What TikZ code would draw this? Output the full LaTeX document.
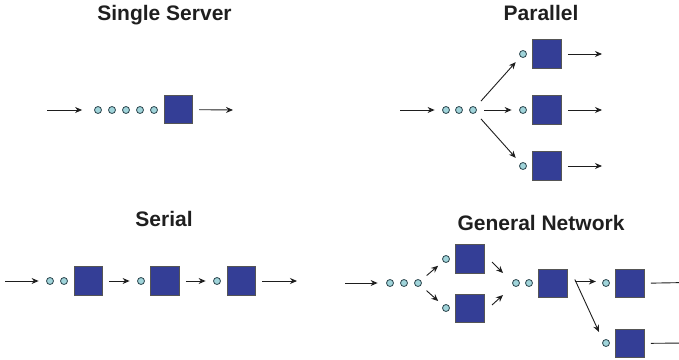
\documentclass[tikz,border=0pt]{standalone}
\usepackage{fontspec}
\setmainfont{Liberation Sans}
\usetikzlibrary{arrows.meta}
\definecolor{srvfill}{RGB}{52,62,150}
\definecolor{srvline}{RGB}{85,85,85}
\definecolor{qfill}{RGB}{160,212,218}
\definecolor{qline}{RGB}{45,70,78}
\definecolor{arrcol}{RGB}{30,30,30}
\tikzset{
  srv/.style={rectangle, minimum size=28.5pt, inner sep=0pt, fill=srvfill, draw=srvline, line width=1.2pt},
  q/.style={circle, minimum size=7pt, inner sep=0pt, fill=qfill, draw=qline, line width=0.8pt},
  arr/.style={-{Stealth[length=7pt,width=6pt]}, draw=arrcol, line width=0.9pt},
  ttl/.style={font=\fontsize{21}{25}\selectfont\bfseries, text=black!88, anchor=base, inner sep=0pt}
}
\begin{document}
\begin{tikzpicture}[x=1pt,y=-1pt]
\useasboundingbox (0,0) rectangle (679,359);
\clip (0,0) rectangle (679,359);
% titles
\node[ttl] (t1) at (164.5,20) {Single Server};
\node[ttl] (t2) at (541,20.5) {Parallel};
\node[ttl] (t3) at (164,226.5) {Serial};
\node[ttl] (t4) at (541,230) {General Network};

% ---------- Single server ----------
\coordinate (ssIn) at (47,110);
\foreach \i/\x in {1/98,2/112,3/126,4/140,5/154} \node[q] (ssc\i) at (\x,110) {};
\node[srv] (ss) at (178.5,109.5) {};
\coordinate (ssOut) at (233,110);
\draw[arr, shorten >=12pt] (ssIn) -- (ssc1);
\draw[arr, shorten <=6pt] (ss) -- (ssOut);

% ---------- Parallel ----------
\coordinate (pIn) at (400,110);
\foreach \i/\x in {1/446,2/459,3/473} \node[q] (pc\i) at (\x,110) {};
\node[q] (pqa) at (523,54) {};
\node[q] (pqb) at (523,110) {};
\node[q] (pqc) at (523,166) {};
\node[srv] (psa) at (547,54) {};
\node[srv] (psb) at (547,110) {};
\node[srv] (psc) at (547,166) {};
\coordinate (poa) at (602,54);
\coordinate (pob) at (602,110);
\coordinate (poc) at (602,166);
\draw[arr, shorten >=7.5pt] (pIn) -- (pc1);
\draw[arr, shorten <=8pt, shorten >=7pt] (pc3) -- (pqa);
\draw[arr, shorten <=7.5pt, shorten >=7.5pt] (pc3) -- (pqb);
\draw[arr, shorten <=8pt, shorten >=7pt] (pc3) -- (pqc);
\draw[arr, shorten <=6pt] (psa) -- (poa);
\draw[arr, shorten <=6pt] (psb) -- (pob);
\draw[arr, shorten <=6pt] (psc) -- (poc);

% ---------- Serial ----------
\coordinate (sIn) at (5,281);
\node[q] (sc1) at (50,281) {};
\node[q] (sc2) at (64,281) {};
\node[srv] (s1) at (88.5,281) {};
\node[q] (sc3) at (141,281) {};
\node[srv] (s2) at (165,281) {};
\node[q] (sc4) at (217,281) {};
\node[srv] (s3) at (241.5,281) {};
\coordinate (sOut) at (297,281);
\draw[arr, shorten >=7.5pt] (sIn) -- (sc1);
\draw[arr, shorten <=6pt, shorten >=7.5pt] (s1) -- (sc3);
\draw[arr, shorten <=6pt, shorten >=7.5pt] (s2) -- (sc4);
\draw[arr, shorten <=6pt] (s3) -- (sOut);

% ---------- General network ----------
\coordinate (gIn) at (345,283);
\foreach \i/\x in {1/390,2/404,3/418} \node[q] (gc\i) at (\x,283) {};
\node[q] (gqu) at (446,259) {};
\node[q] (gql) at (446,308) {};
\node[srv] (gsu) at (470,259) {};
\node[srv] (gsl) at (470,308.5) {};
\node[q] (gm1) at (516,283) {};
\node[q] (gm2) at (529,283) {};
\node[srv] (gsm) at (553,283.5) {};
\node[q] (gr1) at (606,283) {};
\node[q] (gr2) at (606,343) {};
\node[srv] (gsr1) at (630,283.5) {};
\node[srv] (gsr2) at (630,343.5) {};
\coordinate (gmu) at (492,262);
\coordinate (gml) at (492,305);
\coordinate (go1) at (687,282.5);
\coordinate (go2) at (687,343);
\draw[arr, shorten >=8.5pt] (gIn) -- (gc1);
\draw[arr, shorten <=7.5pt, shorten >=6.5pt] (gc3) -- (gqu);
\draw[arr, shorten <=7.5pt, shorten >=6.5pt] (gc3) -- (gql);
\draw[arr] (gmu) -- ++(11,11);
\draw[arr] (gml) -- ++(11,-10);
\draw[arr] ([yshift=2pt]gsm.east) ++(7,0) -- ++(21,0);
\draw[arr] ([shift={(7,-4)}]gsm.east) -- ([shift={(-7,-11)}]gr2.center);
\draw[arr, shorten <=6pt] (gsr1) -- (go1);
\draw[arr, shorten <=6pt] (gsr2) -- (go2);
\end{tikzpicture}
\end{document}
